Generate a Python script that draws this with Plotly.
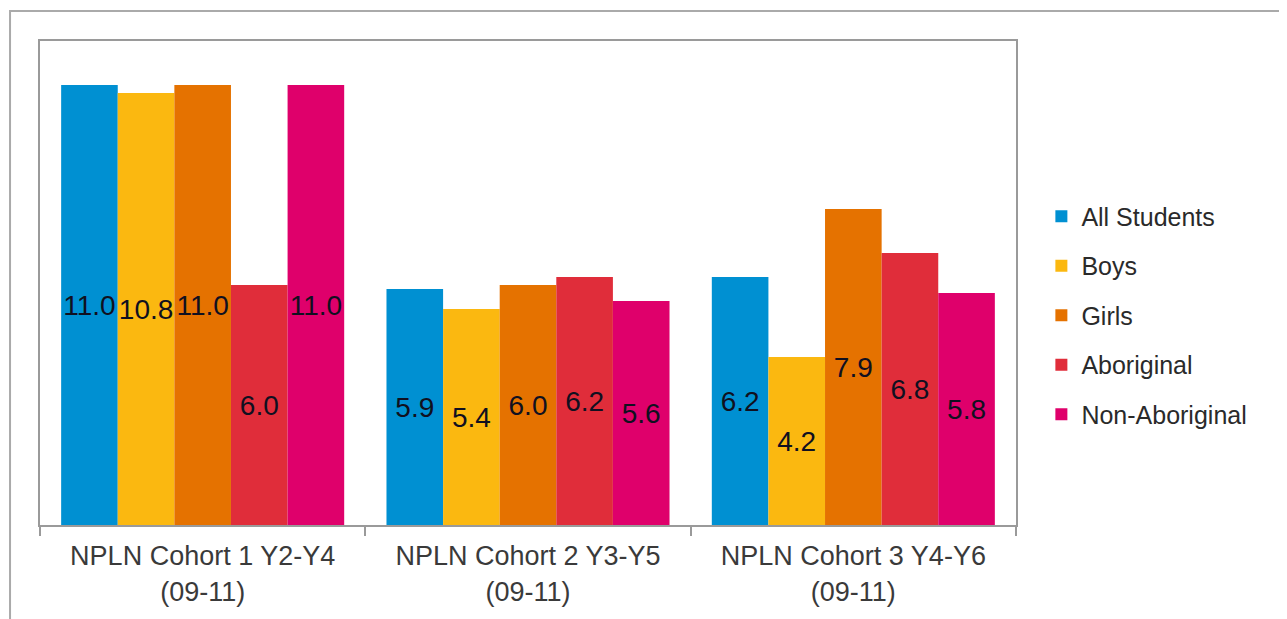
import plotly.graph_objects as go

categories = ["NPLN Cohort 1 Y2-Y4<br>(09-11)",
              "NPLN Cohort 2 Y3-Y5<br>(09-11)",
              "NPLN Cohort 3 Y4-Y6<br>(09-11)"]
series_names = ["All Students", "Boys", "Girls", "Aboriginal", "Non-Aboriginal"]
all_students = [11.0, 5.9, 6.2]
boys = [10.8, 5.4, 4.2]
girls = [11.0, 6.0, 7.9]
aboriginal = [6.0, 6.2, 6.8]
non_aboriginal = [11.0, 5.6, 5.8]
series_values = [all_students, boys, girls, aboriginal, non_aboriginal]
colors = ["#0090D2", "#FBB810", "#E57200", "#E02D3A", "#DF006B"]

FONT = "Liberation Sans, Arial, sans-serif"

fig = go.Figure()
for i, (name, vals, col) in enumerate(zip(series_names, series_values, colors)):
    fig.add_trace(go.Bar(
        x=categories, y=vals, name=name,
        marker=dict(color=col, line=dict(width=0)),
        text=[f"{v:.1f}" for v in vals],
        textposition="inside", insidetextanchor="middle",
        textangle=0, constraintext="none",
        textfont=dict(family=FONT, size=28, color="#101020"),
        legendgroup=f"g{i}", cliponaxis=False,
    ))

fig.update_layout(
    width=1279, height=611,
    margin=dict(l=32, r=271, t=33, b=94),
    paper_bgcolor="white", plot_bgcolor="white",
    barmode="group", bargap=0.13, bargroupgap=0,
    font=dict(family=FONT, color="#404040"),
    showlegend=True,
    legend=dict(x=1.026, y=0.685, xanchor="left", yanchor="top",
                font=dict(family=FONT, size=25, color="#2a2a2a"),
                tracegroupgap=14, bgcolor="rgba(0,0,0,0)"),
    xaxis=dict(type="category", showline=True, mirror=True, linecolor="#9a9a9a",
               linewidth=2, ticks="outside", tickson="boundaries", ticklen=9,
               tickcolor="#9a9a9a", tickwidth=1.5, ticklabelstandoff=6,
               tickfont=dict(family=FONT, size=27, color="#3a3a3a"),
               showgrid=False, fixedrange=True),
    yaxis=dict(range=[0, 12.1], showline=True, mirror=True, linecolor="#9a9a9a",
               linewidth=2, showticklabels=False, ticks="", showgrid=False,
               zeroline=False),
    shapes=[dict(type="rect", xref="paper", yref="paper",
                 x0=-0.0307, x1=1.35, y0=-0.3, y1=1.062,
                 line=dict(color="#aaaaaa", width=2), layer="below")],
)

fig.write_html("out.html")
